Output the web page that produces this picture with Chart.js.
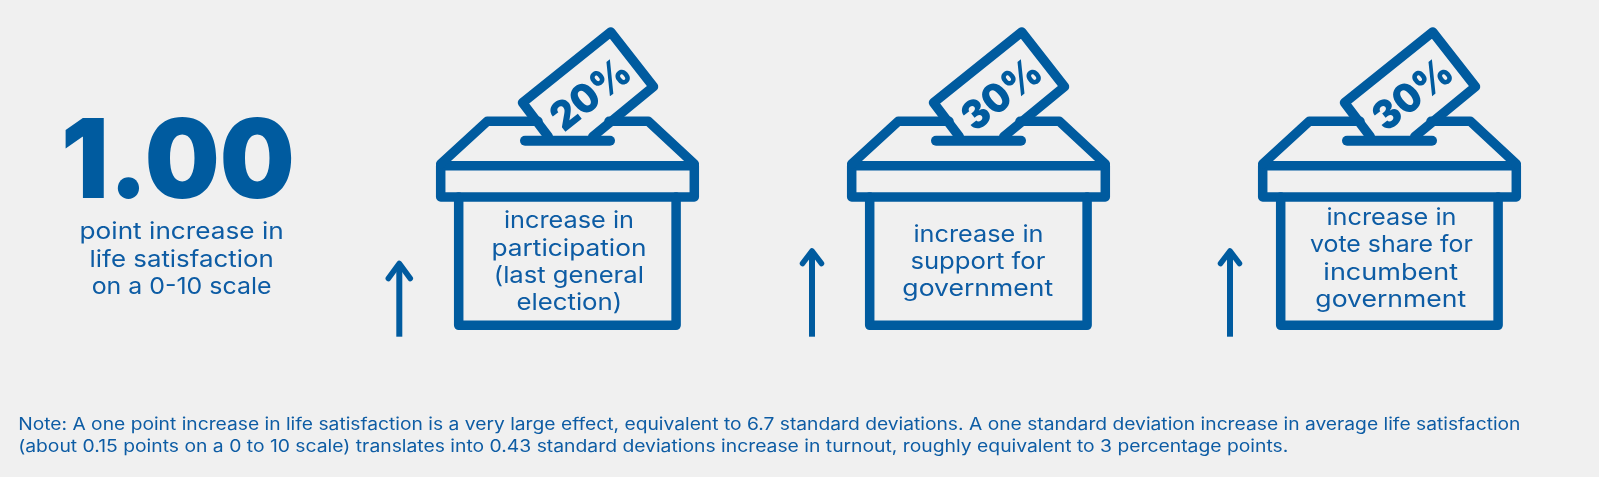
<!DOCTYPE html>
<html>
<head>
<meta charset="utf-8">
<title>Life satisfaction and voting</title>
<script src="https://cdn.jsdelivr.net/npm/chart.js@4"></script>
<style>
    html, body { margin: 0; padding: 0; background: #f0f0f0; overflow: hidden; }
    canvas { display: block; }
</style>
</head>
<body>
<canvas id="chart" width="1599" height="477"></canvas>
<script>
// Values
const categories = ['participation', 'support', 'vote share'];
const increases = [20, 30, 30];
const boxLabels = [
    ['increase in', 'participation', '(last general', 'election)'],
    ['increase in', 'support for', 'government'],
    ['increase in', 'vote share for', 'incumbent', 'government']
];
const headline = '1.00';
const headlineLabel = ['point increase in', 'life satisfaction', 'on a 0-10 scale'];
const noteLines = [
    'Note: A one point increase in life satisfaction is a very large effect, equivalent to 6.7 standard deviations. A one standard deviation increase in average life satisfaction',
    '(about 0.15 points on a 0 to 10 scale) translates into 0.43 standard deviations increase in turnout, roughly equivalent to 3 percentage points.'
];

const BLUE = '#005b9f';
const TEXT_BLUE = '#0d5ca4';
const FONT = 'Inter, "Noto Sans", sans-serif';

// Layout of the pictogram, relative to the category centre
const labelWidths = [[128, 153, 146, 103], [128, 134, 150], [128, 163, 134, 150]];
const labelBaselines = [228.3, 241.7, 225];
const labelShift = [1.5, 0, 2];
const arrowX = [-168.2, -166.5, -159.5];
const arrowTop = [263.5, 251, 251];
const arrowHead = [[11, 15], [9.5, 12.5], [9.5, 12.5]];

// draws text squeezed to a given ink width, the fonts here are not the original one
function fitText(ctx, text, cx, y, font, width) {
    ctx.font = font;
    ctx.textAlign = 'left';
    ctx.textBaseline = 'alphabetic';
    const m = ctx.measureText(text);
    const left = -m.actualBoundingBoxLeft;
    const right = m.actualBoundingBoxRight;
    ctx.save();
    ctx.translate(cx, y);
    ctx.scale(width / (right - left), 1);
    ctx.fillText(text, -(left + right) / 2, 0);
    ctx.restore();
}

function line(ctx, pts) {
    ctx.beginPath();
    pts.forEach((p, i) => i ? ctx.lineTo(p[0], p[1]) : ctx.moveTo(p[0], p[1]));
    ctx.stroke();
}

function drawBallotBox(ctx, cx, value, i) {
    ctx.strokeStyle = BLUE;
    ctx.fillStyle = BLUE;
    ctx.lineJoin = 'round';
    ctx.lineCap = 'round';
    ctx.lineWidth = 9.5;

    // band and body
    ctx.beginPath();
    ctx.rect(cx - 126.8, 165.7, 253.6, 31.3);
    ctx.stroke();
    line(ctx, [[cx - 108.8, 197], [cx - 108.8, 325.3], [cx + 108.6, 325.3], [cx + 108.6, 197]]);

    // lid
    line(ctx, [[cx - 126.8, 164], [cx - 80.2, 121.3], [cx - 29.5, 121.3]]);
    line(ctx, [[cx + 41.5, 121.3], [cx + 80.8, 121.3], [cx + 126.8, 164]]);

    // ballot paper going into the slot
    line(ctx, [[cx - 19.2, 136.7], [cx - 45, 102.7], [cx + 43.2, 32], [cx + 86, 86.7], [cx + 25.2, 136.7]]);
    ctx.lineWidth = 10;
    line(ctx, [[cx - 42.5, 140.7], [cx + 42.5, 140.7]]);

    // percentage on the paper
    ctx.save();
    ctx.translate(cx + 22, 94);
    ctx.rotate(-38.4 * Math.PI / 180);
    fitText(ctx, value + '%', 0, 14.5, '900 40px ' + FONT, 86);
    ctx.restore();

    // label inside the box
    ctx.fillStyle = TEXT_BLUE;
    boxLabels[i].forEach((txt, k) => {
        fitText(ctx, txt, cx + labelShift[i], labelBaselines[i] + k * 27.3, '400 23.5px ' + FONT, labelWidths[i][k]);
    });

    // arrow
    const ax = cx + arrowX[i];
    const [hw, hh] = arrowHead[i];
    ctx.strokeStyle = BLUE;
    ctx.lineCap = 'butt';
    ctx.lineWidth = 6;
    line(ctx, [[ax, 336.7], [ax, arrowTop[i] + 2]]);
    ctx.lineCap = 'round';
    ctx.lineWidth = 5.5;
    line(ctx, [[ax - hw, arrowTop[i] + hh], [ax, arrowTop[i]], [ax + hw, arrowTop[i] + hh]]);
}

const pictogram = {
    id: 'pictogram',
    afterDatasetsDraw(chart) {
        const ctx = chart.ctx;
        ctx.save();
        chart.getDatasetMeta(0).data.forEach((bar, i) => drawBallotBox(ctx, bar.x, increases[i], i));

        // left hand figure
        ctx.fillStyle = BLUE;
        fitText(ctx, headline, 178.3, 198.3, '900 110px ' + FONT, 226.7);
        ctx.fillStyle = TEXT_BLUE;
        const widths = [202, 182, 178];
        headlineLabel.forEach((txt, k) => fitText(ctx, txt, 181.7, 239.3 + k * 27.5, '400 23.5px ' + FONT, widths[k]));

        // note
        const noteWidths = [1500, 1268];
        noteLines.forEach((txt, k) => fitText(ctx, txt, 19.3 + noteWidths[k] / 2, 430 + k * 21.7, '400 17px ' + FONT, noteWidths[k]));
        ctx.restore();
    }
};

new Chart(document.getElementById('chart'), {
    type: 'bar',
    data: {
        labels: categories,
        datasets: [{ data: increases, backgroundColor: 'rgba(0,0,0,0)' }]
    },
    options: {
        responsive: false,
        animation: false,
        devicePixelRatio: 1,
        layout: { padding: { left: 362, right: 4, top: 0, bottom: 0 } },
        plugins: { legend: { display: false }, tooltip: { enabled: false }, title: { display: false } },
        scales: {
            x: { display: false },
            y: { display: false, min: 0, max: 100 }
        }
    },
    plugins: [pictogram]
});
</script>
</body>
</html>
